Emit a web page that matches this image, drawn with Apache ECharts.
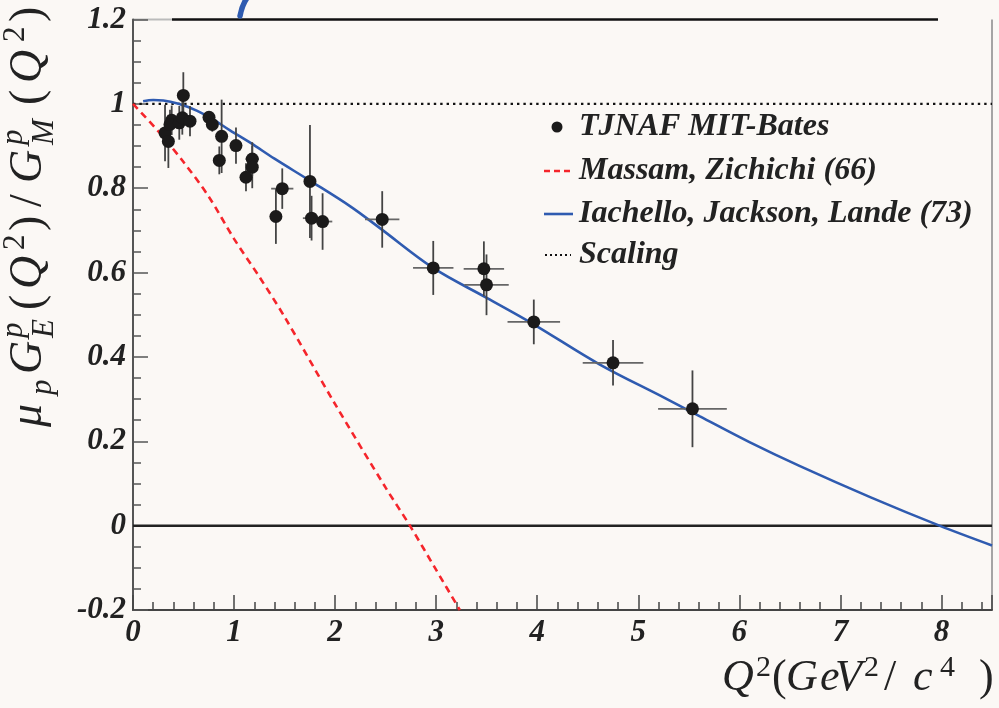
<!DOCTYPE html>
<html><head><meta charset="utf-8">
<script src="https://cdn.jsdelivr.net/npm/echarts@6/dist/echarts.min.js"></script>
<style>html,body{margin:0;padding:0;background:#fbf8f5;}#c{width:999px;height:708px;}</style>
</head><body><div id="c"></div>
<script>
// ---- data ----
const dataQ2 = [0.317,0.350,0.383,0.366,0.458,0.488,0.498,0.564,0.752,0.785,0.877,0.854,1.019,1.180,1.180,1.118,1.477,1.414,1.751,1.767,1.876,2.466,2.971,3.472,3.498,3.966,4.75,5.536];
const dataR  = [0.931,0.911,0.961,0.951,0.955,0.967,1.020,0.959,0.968,0.951,0.923,0.866,0.901,0.869,0.850,0.826,0.799,0.733,0.816,0.729,0.721,0.726,0.611,0.609,0.571,0.483,0.386,0.277];
const errY   = [0.067,0.063,0.035,0.035,0.040,0.040,0.055,0.036,0.015,0.017,0.087,0.033,0.043,0.040,0.050,0.033,0.048,0.065,0.134,0.053,0.067,0.067,0.064,0.065,0.072,0.053,0.054,0.091];
const errX   = [0,0,0,0,0,0,0,0,0,0,0,0,0,0.067,0,0,0.11,0,0,0.086,0.096,0.17,0.20,0.20,0.22,0.26,0.30,0.34];

const ijlQ2 = [0.1,0.2,0.3,0.45,0.63,0.8,0.96,1.16,1.4,1.75,2.15,2.44,2.97,3.5,3.96,4.62,5.26,5.61,6.1,6.6,7.3,7.98,8.5];
const ijlR  = [1.006,1.009,1.008,1.0,0.984,0.962,0.937,0.908,0.870,0.818,0.757,0.706,0.611,0.540,0.478,0.382,0.303,0.259,0.198,0.141,0.067,0.0,-0.047];

const mzQ2 = [0,0.25,0.5,0.75,1.0,1.25,1.5,2.0,2.5,2.74,3.0,3.234];
const mzR  = [1,0.935,0.862,0.78,0.68,0.59,0.495,0.288,0.09,0,-0.105,-0.2];

const scalingQ2 = [0, 8.5];
const scalingR  = [1, 1];

const xTickLabels = ['0','1','2','3','4','5','6','7','8'];
const yTickLabels = {'-0.2':'-0.2','0':'0','0.2':'0.2','0.4':'0.4','0.6':'0.6','0.8':'0.8','1':'1','1.2':'1.2'};

const legendNames = ['TJNAF MIT-Bates','Massam, Zichichi (66)','Iachello, Jackson, Lande (73)','Scaling'];

// ---- chart ----
const SERIF = '"Liberation Serif","Times New Roman",serif';
const chart = echarts.init(document.getElementById('c'), null, {renderer:'canvas'});

const zip = (a,b)=>a.map((v,i)=>[v,b[i]]);
const errData = dataQ2.map((q,i)=>[q,dataR[i],errX[i],errY[i]]);

const labelStyle = {fontFamily:SERIF,fontStyle:'italic',fontWeight:'bold',fontSize:31,color:'#222'};

const option = {
  backgroundColor:'#fbf8f5',
  animation:false,
  grid:{left:133,right:7,top:19.5,bottom:98,containLabel:false},
  xAxis:{type:'value',min:0,max:8.5,interval:1,
    axisLine:{show:true,onZero:false,lineStyle:{color:'#444',width:2}},
    axisTick:{show:true,inside:true,length:15,lineStyle:{color:'#444',width:1.5}},
    minorTick:{show:true,splitNumber:5,length:8,lineStyle:{color:'#444',width:1.5}},
    splitLine:{show:false},
    axisLabel:Object.assign({margin:7,showMaxLabel:false,formatter:v=>{const i=Math.round(v);return (Math.abs(v-i)<1e-6&&xTickLabels[i]!==undefined)?xTickLabels[i]:'';}},labelStyle)
  },
  yAxis:{type:'value',min:-0.2,max:1.2,interval:0.2,
    axisLine:{show:true,onZero:false,lineStyle:{color:'#555',width:2}},
    axisTick:{show:true,inside:true,length:15,lineStyle:{color:'#555',width:1.5}},
    minorTick:{show:true,splitNumber:4,length:8,lineStyle:{color:'#555',width:1.5}},
    splitLine:{show:false},
    axisLabel:Object.assign({margin:7,formatter:v=>{const k=String(Math.round(v*10)/10);return yTickLabels[k]!==undefined?yTickLabels[k]:k;}},labelStyle)
  },
  series:[
    {name:'zero',type:'line',data:[[0,0],[8.5,0]],symbol:'none',silent:true,
      lineStyle:{color:'#222',width:2.5},z:2},
    {name:legendNames[3],type:'line',data:zip(scalingQ2,scalingR),symbol:'none',
      lineStyle:{color:'#111',width:2.4,type:[2.4,4]},z:3},
    {name:legendNames[1],type:'line',data:zip(mzQ2,mzR),symbol:'none',smooth:0.3,
      lineStyle:{color:'#f5252b',width:2.6,type:[7,5]},z:3},
    {name:legendNames[2],type:'line',data:zip(ijlQ2,ijlR),symbol:'none',smooth:0.35,
      lineStyle:{color:'#2f5bb0',width:2.6},z:4},
    {name:'err',type:'custom',data:errData,z:5,
      renderItem:function(params,api){
        const x=api.value(0),y=api.value(1),ex=api.value(2),ey=api.value(3);
        const ch=[];
        const a=api.coord([x,y-ey]),b=api.coord([x,y+ey]);
        ch.push({type:'line',shape:{x1:a[0],y1:a[1],x2:b[0],y2:b[1]},style:{stroke:'#444',lineWidth:1.8}});
        if(ex>0){const c=api.coord([x-ex,y]),d=api.coord([x+ex,y]);
          ch.push({type:'line',shape:{x1:c[0],y1:c[1],x2:d[0],y2:d[1]},style:{stroke:'#666',lineWidth:1.8}});}
        return {type:'group',children:ch};
      }},
    {name:legendNames[0],type:'scatter',data:zip(dataQ2,dataR),symbol:'circle',symbolSize:13,
      itemStyle:{color:'#1b1a1a',opacity:1},z:6}
  ]
};
chart.setOption(option);

// decorations: frame top/right, legend, axis titles
const pTL = chart.convertToPixel({gridIndex:0},[0,1.2]);
const pBR = chart.convertToPixel({gridIndex:0},[8.5,-0.2]);

function piece(text,x,base,size,style){
  return {type:'text',x:x,y:base-0.3375*size,silent:true,
    style:{text:text,font:style+' '+size+'px '+SERIF,fill:'#222',align:'left',verticalAlign:'middle'}};
}

function yTitle(){
  const M=46,S=31;
  const items=[
    ['μ',0,M,'italic',0],['p',32,S,'italic',9],
    ['G',53,M,'italic',0],['p',89,S,'italic',-20],['E',89,S,'italic',11],
    ['(',117,M,'normal',0],['Q',138,M,'italic',0],['2',177,S,'normal',-18],[')',196,M,'normal',0],
    ['/',220,M,'normal',0],
    ['G',244,M,'italic',0],['p',282,S,'italic',-20],['M',282,S,'italic',11],
    ['(',322,M,'normal',0],['Q',344,M,'italic',0],['2',385,S,'normal',-18],[')',405,M,'normal',0]
  ];
  return {type:'group',x:44,y:427,rotation:Math.PI/2,silent:true,
    children:items.map(it=>piece(it[0],it[1],it[4],it[2],it[3]))};
}

function xTitle(){
  const M=44,S=30,B=693,SB=678;
  const items=[
    ['Q',722,M,'italic',B],['2',756,S,'normal',SB],['(',772,M,'normal',B],
    ['G',786,M,'italic',B],['e',820,M,'italic',B],['V',835,M,'italic',B],['2',864,S,'normal',SB],
    ['/',884,M,'normal',B],['c',913,M,'italic',B],['4',940,S,'normal',SB],[')',979,M,'normal',B]
  ];
  return {type:'group',silent:true,children:items.map(it=>piece(it[0],it[1],it[4],it[2],it[3]))};
}

const legY=[127,171,214,255];
const legX=579;
const legFont='italic bold 32px '+SERIF;

chart.setOption({graphic:[
  {type:'line',shape:{x1:pTL[0],y1:pTL[1],x2:172,y2:pTL[1]},style:{stroke:'#bbb',lineWidth:2},silent:true},
  {type:'line',shape:{x1:172,y1:pTL[1],x2:938,y2:pTL[1]},style:{stroke:'#111',lineWidth:2.5},silent:true},
  {type:'line',shape:{x1:pBR[0],y1:pTL[1],x2:pBR[0],y2:pBR[1]},style:{stroke:'#888',lineWidth:1.5},silent:true},
  {type:'bezierCurve',shape:{x1:247,y1:-2,x2:240,y2:16,cpx1:242,cpy1:5},style:{stroke:'#2f5bb0',lineWidth:5.5,lineCap:'round'},silent:true},
  // legend
  {type:'circle',shape:{cx:557,cy:legY[0],r:5.5},style:{fill:'#1b1a1a'},silent:true},
  {type:'text',x:legX,y:legY[0],style:{text:legendNames[0],font:legFont,fill:'#222',verticalAlign:'middle'},silent:true},
  {type:'line',shape:{x1:544,y1:legY[1],x2:573,y2:legY[1]},style:{stroke:'#f5252b',lineWidth:2.4,lineDash:[6,4]},silent:true},
  {type:'text',x:legX,y:legY[1],style:{text:legendNames[1],font:legFont,fill:'#222',verticalAlign:'middle'},silent:true},
  {type:'line',shape:{x1:544,y1:legY[2],x2:573,y2:legY[2]},style:{stroke:'#2f5bb0',lineWidth:2.6},silent:true},
  {type:'text',x:legX,y:legY[2],style:{text:legendNames[2],font:legFont,fill:'#222',verticalAlign:'middle'},silent:true},
  {type:'line',shape:{x1:545,y1:legY[3],x2:571,y2:legY[3]},style:{stroke:'#111',lineWidth:2,lineDash:[2,3]},silent:true},
  {type:'text',x:legX,y:legY[3],style:{text:legendNames[3],font:legFont,fill:'#222',verticalAlign:'middle'},silent:true},
  xTitle(),
  yTitle()
]});
</script></body></html>
